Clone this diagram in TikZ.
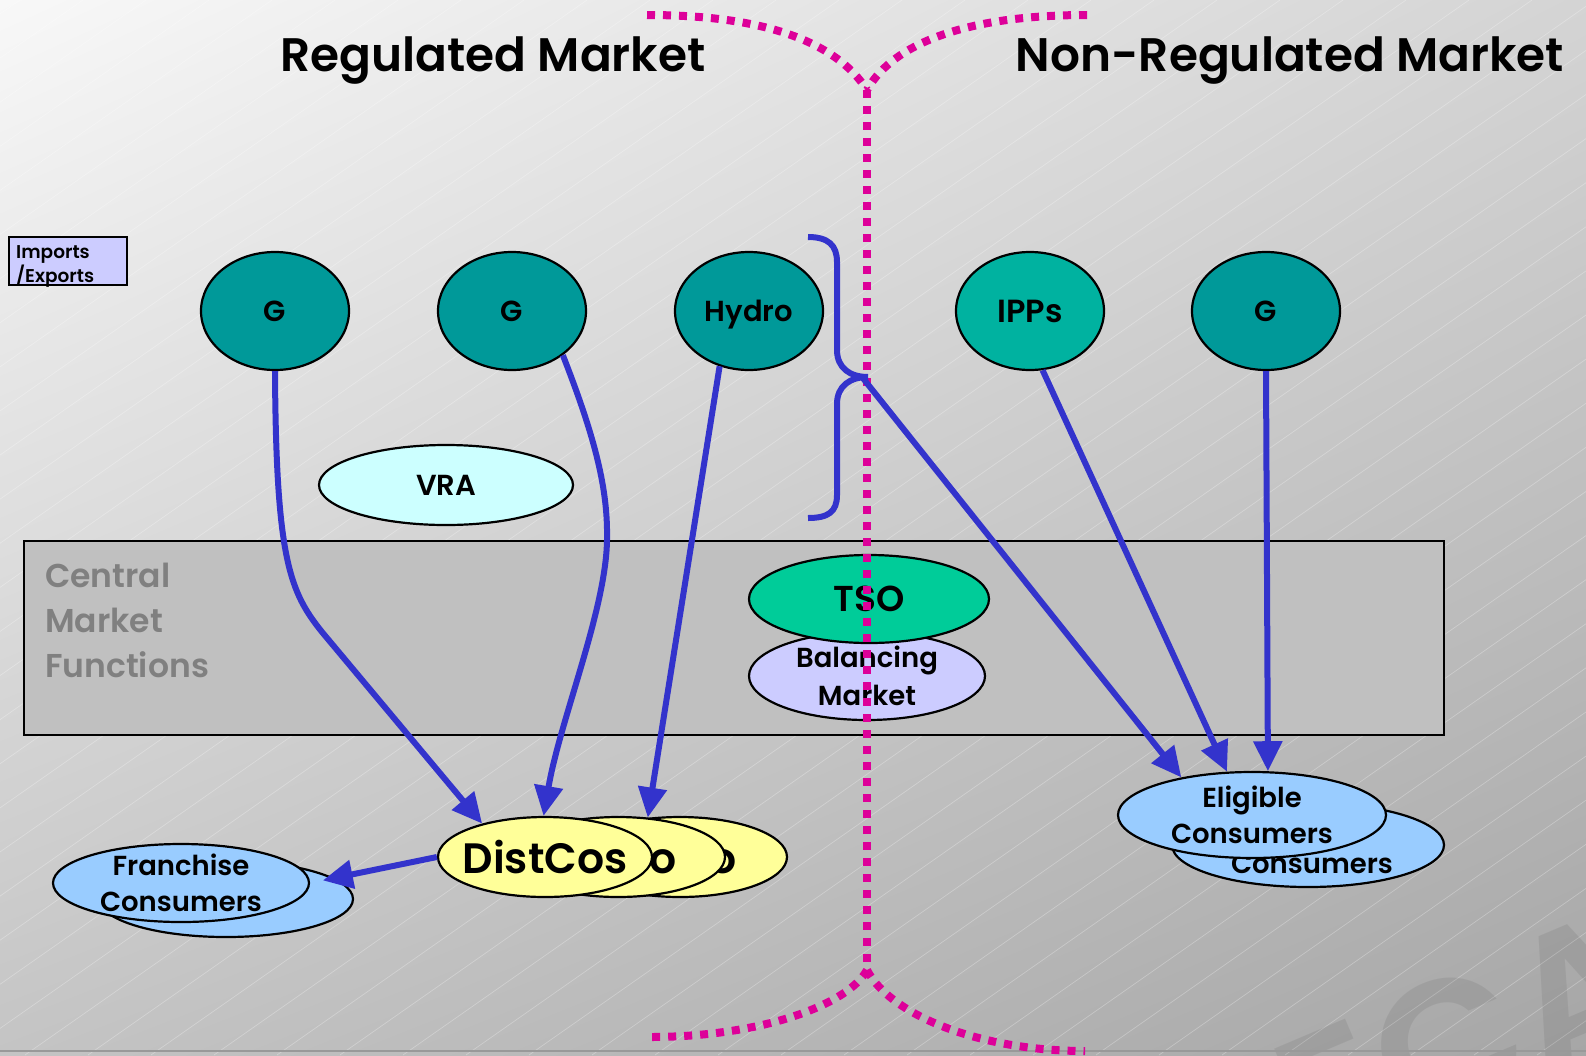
\documentclass[tikz,border=0pt]{standalone}
\usepackage{fontspec}
\setmainfont{Poppins}[UprightFont=* Medium, BoldFont=* SemiBold]
\usetikzlibrary{shapes.geometric,arrows.meta,shadings}

\definecolor{gencol}{HTML}{009999}
\definecolor{ippcol}{HTML}{00B2A0}
\definecolor{vracol}{HTML}{CCFFFF}
\definecolor{tsocol}{HTML}{00CC99}
\definecolor{balcol}{HTML}{CCCCFF}
\definecolor{distcol}{HTML}{FFFF99}
\definecolor{conscol}{HTML}{99CCFF}
\definecolor{boxcol}{HTML}{C0C0C0}
\definecolor{boxtext}{HTML}{808080}
\definecolor{flowcol}{HTML}{3333CC}
\definecolor{splitcol}{HTML}{DD0099}
\definecolor{bgul}{HTML}{F8F8F8}
\definecolor{bgur}{HTML}{D4D4D4}
\definecolor{bgll}{HTML}{C4C4C4}
\definecolor{bglr}{HTML}{A6A6A6}

\newcommand{\fsz}[2]{\fontsize{#1}{#2}\selectfont\bfseries}

\begin{document}
\begin{tikzpicture}[x=1pt,y=-1pt,
  oval/.style={ellipse, draw=black, line width=2.2pt, inner sep=0pt},
  gen/.style={oval, fill=gencol, minimum width=148pt, minimum height=118pt,
              text depth=0pt, font=\fsz{29}{34}},
  lbl/.style={align=center, inner sep=0pt},
  flow/.style={draw=flowcol, line width=6pt, -{Triangle[length=30pt,width=28pt]}},
  split/.style={draw=splitcol, line width=8pt, dash pattern=on 8pt off 8pt},
]
\useasboundingbox (0,0) rectangle (1586,1055);

% slide background
\shade[upper left=bgul, upper right=bgur, lower left=bgll, lower right=bglr]
  (0,0) rectangle (1586,1055);
\begin{scope}
  \clip (0,0) rectangle (1586,1055);
  \foreach \s in {-1550,-1487,...,1650}
    \draw[white, opacity=0.28, line width=0.7pt] (\s,1055) -- ++(1507,-1055);
  \node[rotate=23, font=\fsz{190}{190}, text=black, opacity=0.07]
    at (1465,1040) {ECA};
\end{scope}
\draw[black!40, line width=2pt] (0,1051) -- (1586,1051);

% titles
\node[anchor=base, font=\fsz{47}{56}] (regtitle) at (493,71) {Regulated Market};
\node[anchor=base, font=\fsz{47}{56}] (nontitle) at (1290,71) {Non-Regulated Market};

% imports / exports box
\node[draw=black, line width=1.5pt, fill=balcol, minimum width=118pt, minimum height=48pt,
      inner sep=0pt] (impbox) at (68,261) {};
\node[anchor=north west, align=left, inner sep=0pt, font=\fsz{18.5}{24}]
  (imptext) at (16,245) {Imports\\/Exports};

% central market functions
\node[draw=black, line width=1.6pt, fill=boxcol, minimum width=1420pt, minimum height=194pt,
      inner sep=0pt] (central) at (734,638) {};
\node[anchor=north west, align=left, inner sep=0pt, text=boxtext, font=\fsz{33}{45}]
  (centraltext) at (45,563) {Central\\Market\\Functions};

% generators
\node[gen] (g1) at (275,311) {G};
\node[gen] (g2) at (512,311) {G};
\node[gen] (hydro) at (749,311) {Hydro};
\node[gen, fill=ippcol, font=\fsz{32}{36}] (ipps) at (1030,311) {IPPs};
\node[gen] (g3) at (1266,311) {G};

\node[oval, fill=vracol, minimum width=254pt, minimum height=80pt, text depth=0pt,
      font=\fsz{29}{34}] (vra) at (446,485) {VRA};

% TSO and balancing market
\node[oval, fill=balcol, minimum width=236pt, minimum height=88pt,
      label={[lbl, font=\fsz{27.5}{38}]center:Balancing\\Market}] (bal) at (867,676) {};
\node[oval, fill=tsocol, minimum width=240pt, minimum height=88pt, font=\fsz{36}{44}]
  (tso) at (869,599) {TSO};

% distribution companies
\node[oval, fill=distcol, minimum width=214pt, minimum height=80pt,
      label={[lbl, font=\fsz{42.5}{50}, xshift=-14pt]center:DistCo}] (dist3) at (680,857) {};
\node[oval, fill=distcol, minimum width=214pt, minimum height=80pt,
      label={[lbl, font=\fsz{42.5}{50}, xshift=-12pt]center:DistCo}] (dist2) at (618,857) {};
\node[oval, fill=distcol, minimum width=214pt, minimum height=80pt,
      label={[lbl, font=\fsz{42.5}{50}]center:DistCos}] (dist1) at (545,857) {};

% consumers
\node[oval, fill=conscol, minimum width=254pt, minimum height=76pt] (franch2) at (226,899) {};
\node[oval, fill=conscol, minimum width=256pt, minimum height=78pt,
      label={[lbl, font=\fsz{27.5}{36}]center:Franchise\\Consumers}] (franch1) at (181,883) {};

\node[oval, fill=conscol, minimum width=272pt, minimum height=84pt,
      label={[lbl, font=\fsz{27.5}{36}, xshift=4pt]center:Eligible\\Consumers}] (elig2) at (1308,845) {};
\node[oval, fill=conscol, minimum width=268pt, minimum height=86pt,
      label={[lbl, font=\fsz{27.5}{36}]center:Eligible\\Consumers}] (elig1) at (1252,815) {};

% boundary between the two markets
\draw[split] (647,15) .. controls (760,15) and (835,40) .. (867,90);
\draw[split] (1087,15) .. controls (975,15) and (895,40) .. (867,90);
\draw[split] (867,90) -- (867,970);
\draw[split] (867,970) .. controls (848,1005) and (760,1037) .. (650,1037);
\draw[split] (867,970) .. controls (890,1015) and (980,1051) .. (1085,1051);

% brace grouping hydro output
\draw[flowcol, line width=6pt]
  (808,237) .. controls (828,237) and (837,245) .. (837,262) -- (837,350)
  .. controls (837,368) and (850,377) .. (868,377)
  .. controls (850,377) and (837,386) .. (837,404) -- (837,495)
  .. controls (837,512) and (828,518) .. (808,518);
\coordinate (bracetip) at (862,377);

% energy flows
\draw[flow] (g1.south) .. controls (276,560) and (290,592) .. (322,632) -- (dist1.152);
\draw[flow] (g2.-41) .. controls (596,440) and (608,490) .. (607,540)
  .. controls (606,610) and (560,720) .. (dist1.92);
\draw[flow] (hydro.-118) -- (dist2.53);
\draw[flow] (bracetip) -- (elig1.152);
\draw[flow] (ipps.-78) -- (elig1.120);
\draw[flow] (g3.south) -- (elig1.70);
\draw[flow, shorten >=13pt] (dist1.west) -- (franch1.east);
\end{tikzpicture}
\end{document}
